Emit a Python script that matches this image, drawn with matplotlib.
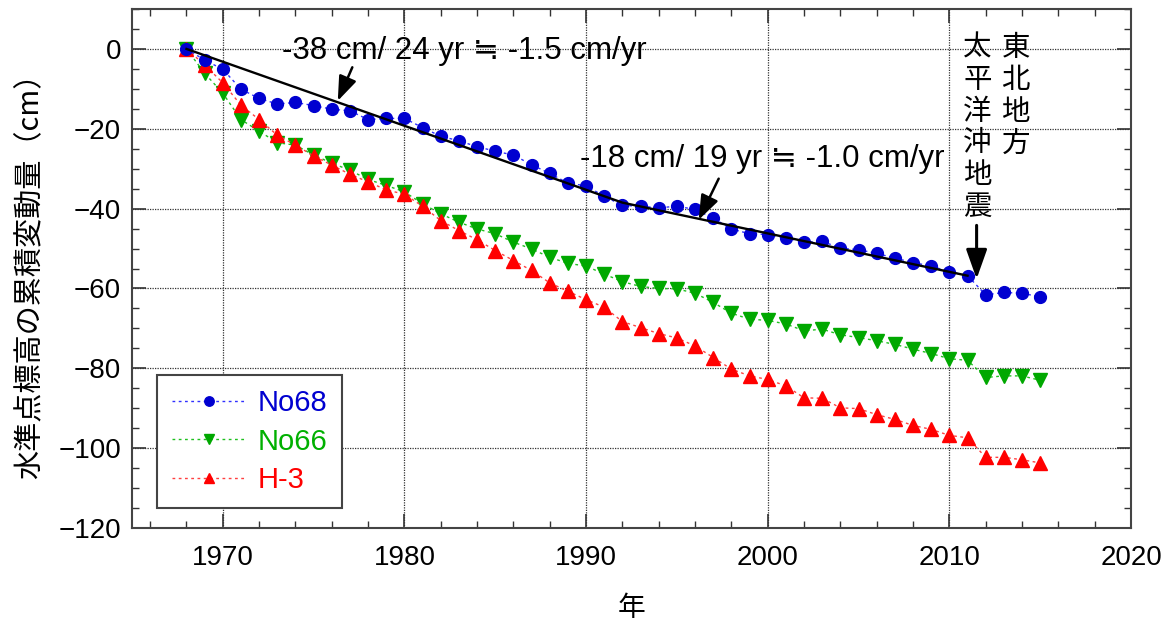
import matplotlib
matplotlib.use("Agg")
import matplotlib.pyplot as plt
from matplotlib.ticker import MultipleLocator

years = list(range(1968, 2016))
no68 = [0, -2.8, -5.1, -10.1, -12.4, -13.8, -13.4, -14.2, -15.1, -15.5, -17.7, -17.4,
        -17.4, -19.7, -21.9, -23.0, -24.5,
        -25.6, -26.6, -29.0, -31.2, -33.6, -34.3, -36.9, -39.2, -39.4, -39.8, -39.4,
        -40.2, -42.4, -45.1, -46.3, -46.5,
        -47.3, -48.4, -48.2, -49.9, -50.3, -51.2, -52.4, -53.5, -54.4, -55.8, -56.8,
        -61.6, -61.0, -61.2, -62.1]
no66 = [0, -6.1, -11.1, -17.7, -20.6, -23.5, -24.1, -26.6, -28.6, -30.4, -32.7, -34.2,
        -35.8, -38.8, -41.3, -43.4, -45.1,
        -46.3, -48.4, -50.1, -52.2, -53.7, -54.4, -56.4, -58.3, -59.5, -60.0, -60.1,
        -61.2, -63.5, -66.2, -67.7, -68.0,
        -68.9, -70.6, -70.2, -71.6, -72.3, -73.1, -74.0, -75.2, -76.3, -77.6, -78.0,
        -82.3, -81.9, -81.9, -83.0]
h3 = [0, -4.0, -8.5, -14.1, -17.7, -21.6, -24.1, -26.8, -29.1, -31.4, -33.3, -35.3,
      -36.4, -39.4, -43.0, -45.5, -47.8,
      -50.5, -53.0, -55.5, -58.6, -60.7, -62.8, -64.7, -68.3, -69.8, -71.3, -72.4,
      -74.4, -77.3, -80.2, -81.9, -82.8,
      -84.4, -87.4, -87.5, -89.9, -90.1, -91.6, -92.8, -94.3, -95.3, -96.8, -97.4,
      -102.3, -102.3, -102.9, -103.7]
trend_years = [1968, 1992, 2011]
trend_vals = [0, -38.5, -56.8]

series_labels = ["No68", "No66", "H-3"]
xticks = [1970, 1980, 1990, 2000, 2010, 2020]
yticks = [0, -20, -40, -60, -80, -100, -120]

ann1 = "-38 cm/ 24 yr ≒ -1.5 cm/yr"
ann2 = "-18 cm/ 19 yr ≒ -1.0 cm/yr"
quake1 = "東北地方"
quake2 = "太平洋沖地震"

LAT = ["Liberation Sans", "Noto Sans CJK JP", "DejaVu Sans"]
CJK = ["Noto Sans CJK JP", "DejaVu Sans"]

fig = plt.figure(figsize=(11.69, 6.24), dpi=100)
ax = fig.add_axes([132/1169, (624-528)/624, 999/1169, 519/624])

blue, green, red = "#0000D0", "#00A800", "#FF0000"
ls = (0, (2.0, 2.5))
ax.plot(years, no68, linestyle=ls, lw=1.0, color="#3030FF", marker="o", ms=8.5,
        mfc=blue, mec=blue, label=series_labels[0], zorder=4)
ax.plot(years, no66, linestyle=ls, lw=1.0, color="#20C020", marker="v", ms=9.5,
        mfc=green, mec=green, label=series_labels[1], zorder=3)
ax.plot(years, h3, linestyle=ls, lw=1.0, color="#FF4040", marker="^", ms=9.5,
        mfc=red, mec=red, label=series_labels[2], zorder=3.5)
ax.plot(trend_years, trend_vals, color="black", lw=1.7, zorder=5)

ax.set_xlim(1965, 2020)
ax.set_ylim(-120, 10)
ax.set_xticks(xticks)
ax.set_yticks(yticks)
ax.xaxis.set_minor_locator(MultipleLocator(2))
ax.yaxis.set_minor_locator(MultipleLocator(5))
ax.tick_params(which="both", direction="in", top=True, right=True, color="#333333")
ax.tick_params(which="major", length=10, width=1.2)
ax.tick_params(which="minor", length=5, width=1.0)
ax.tick_params(axis="x", which="major", pad=12)
ax.tick_params(axis="y", which="major", pad=8)
for lab in ax.get_xticklabels():
    lab.set_fontfamily(LAT)
    lab.set_fontsize(20)
for lab in ax.get_yticklabels():
    lab.set_fontfamily(LAT)
    lab.set_fontsize(20)
for sp in ax.spines.values():
    sp.set_color("#444444")
    sp.set_linewidth(1.5)
ax.grid(True, which="major", linestyle=(0, (1, 1)), color="#333333", lw=0.9)

ax.set_xlabel("年", fontfamily=CJK, fontsize=20)
ax.xaxis.set_label_coords(0.5, -0.125)
ax.set_ylabel("水準点標高の累積変動量（cm）", fontfamily=CJK, fontsize=21)
ax.yaxis.set_label_coords(-0.087, 0.5)

ax.text(1973.24, -2.5, ann1, fontfamily=LAT, fontsize=22.5, ha="left", va="baseline", zorder=6)
ax.text(1989.67, -29.6, ann2, fontfamily=LAT, fontsize=22.5, ha="left", va="baseline", zorder=6)

arrow_small = dict(arrowstyle="-|>,head_length=0.75,head_width=0.28", color="black",
                   lw=1.8, shrinkA=0, shrinkB=0, mutation_scale=20)
ax.annotate("", xy=(1976.33, -13.0), xytext=(1977.13, -4.6), arrowprops=arrow_small, zorder=6)
ax.annotate("", xy=(1996.2, -42.8), xytext=(1997.3, -32.5), arrowprops=arrow_small, zorder=6)
arrow_big = dict(arrowstyle="-|>,head_length=0.9,head_width=0.32", color="black",
                 lw=2.2, shrinkA=0, shrinkB=0, mutation_scale=20)
ax.annotate("", xy=(2011.5, -57.6), xytext=(2011.5, -44.2), arrowprops=arrow_big, zorder=6)

ax.text(2013.65, 4.0, "\n".join(quake1), fontfamily=CJK, fontsize=20.5, ha="center",
        va="top", linespacing=1.08, zorder=6)
ax.text(2011.55, 4.0, "\n".join(quake2), fontfamily=CJK, fontsize=20.5, ha="center",
        va="top", linespacing=1.08, zorder=6)

leg = ax.legend(loc="upper left", bbox_to_anchor=(0.025, 0.295), borderaxespad=0,
                prop={"family": LAT, "size": 21}, handlelength=2.6, handletextpad=0.35,
                labelspacing=0.35, borderpad=0.5, fancybox=False, framealpha=1,
                edgecolor="#444444", markerscale=0.8)
leg.get_frame().set_linewidth(1.5)
for txt, c in zip(leg.get_texts(), [blue, "#00B000", red]):
    txt.set_color(c)

fig.savefig("out.png", dpi=100)
